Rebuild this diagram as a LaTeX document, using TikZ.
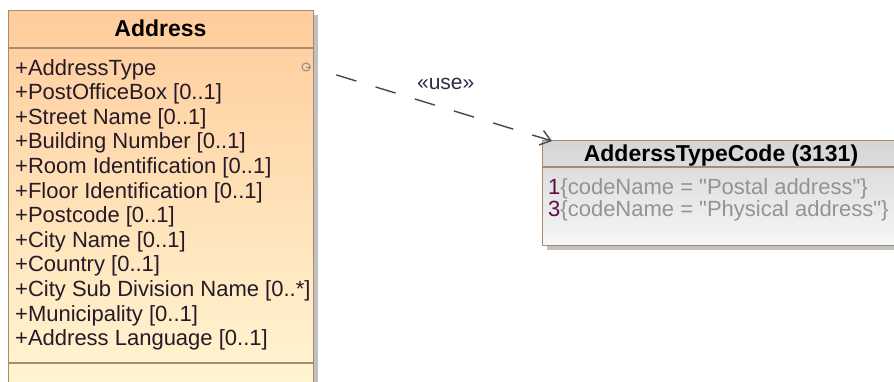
\documentclass[tikz,border=0pt]{standalone}
\usepackage{fontspec}
\setmainfont{Liberation Sans}[Ligatures=TeXOff]
\usetikzlibrary{arrows.meta,shadows}

\definecolor{addrtop}{RGB}{255,204,156}
\definecolor{addrbot}{RGB}{255,250,216}
\definecolor{enumtop}{RGB}{212,212,212}
\definecolor{enumbot}{RGB}{247,247,247}
\definecolor{boxline}{RGB}{168,138,112}
\definecolor{shadowgray}{RGB}{192,192,192}
\definecolor{attrtext}{RGB}{38,26,40}
\definecolor{littext}{RGB}{146,146,152}
\definecolor{litnum}{RGB}{96,12,72}
\definecolor{markgray}{RGB}{140,140,140}
\definecolor{arrowgray}{RGB}{72,72,72}
\definecolor{usetext}{RGB}{48,40,72}

\tikzset{
  classbox/.style={draw=boxline, line width=1.4pt, shading angle=30,
    drop shadow={shadow xshift=4pt, shadow yshift=-4pt, fill=shadowgray, opacity=1}},
  classname/.style={anchor=base, inner sep=0pt, font=\fontsize{23}{26}\selectfont\bfseries},
  attr/.style={anchor=base west, inner sep=0pt, text=attrtext, font=\fontsize{22}{24}\selectfont},
  literal/.style={anchor=base west, inner sep=0pt, text=littext, font=\fontsize{22}{24}\selectfont},
  sepline/.style={draw=boxline, line width=1.4pt},
  usage/.style={draw=arrowgray, line width=1.4pt, dash pattern=on 21pt off 20pt,
    -{Straight Barb[length=10pt,width=15pt]}}
}

\begin{document}
\begin{tikzpicture}[x=1pt,y=-1pt]
\useasboundingbox (0,0) rectangle (894,381);
\clip (0,0) rectangle (894,381);

\node[classbox, top color=addrtop, bottom color=addrbot, anchor=north west,
      minimum width=305pt, minimum height=420pt] (address) at (8,10) {};
\node[classname] (addressname) at (160.5,36.5) {Address};
\draw[sepline] (8,48) -- (313,48);
\draw[sepline] (8,363) -- (313,363);
\foreach \t [count=\i from 0] in {+AddressType, +PostOfficeBox [0..1],
                +Street Name [0..1], +Building Number [0..1],
                +Room Identification [0..1], +Floor Identification [0..1],
                +Postcode [0..1], +City Name [0..1], +Country [0..1],
                +City Sub Division Name [0..*], +Municipality [0..1],
                +Address Language [0..1]}
	{\node[attr] (attr\i) at (15, {75+24.6*\i}) {\t};};

\node[classbox, top color=enumtop, bottom color=enumbot, anchor=north west,
      minimum width=360pt, minimum height=105.5pt] (typecode) at (542,139.5) {};
\node[classname] (typecodename) at (721,161) {AdderssTypeCode (3131)};
\draw[sepline] (542,167) -- (902,167);
\node[literal] (lit1) at (548,194.5) {\textcolor{litnum}{1}\{codeName = "Postal address"\}};
\node[literal] (lit3) at (548,216.5) {\textcolor{litnum}{3}\{codeName = "Physical address"\}};

\node[draw=markgray, circle, minimum size=8pt, inner sep=0pt, line width=1pt] (portmark) at (306,67) {};
\draw[markgray, line width=1pt] (portmark.center) -- (portmark.east);
\coordinate (usetip) at (552,141);
\draw[usage, shorten <=27pt] (portmark.east) -- node[pos=0.56, above=15pt, text=usetext,
      font=\fontsize{21}{24}\selectfont] (uselabel) {«use»} (usetip);
\end{tikzpicture}
\end{document}
